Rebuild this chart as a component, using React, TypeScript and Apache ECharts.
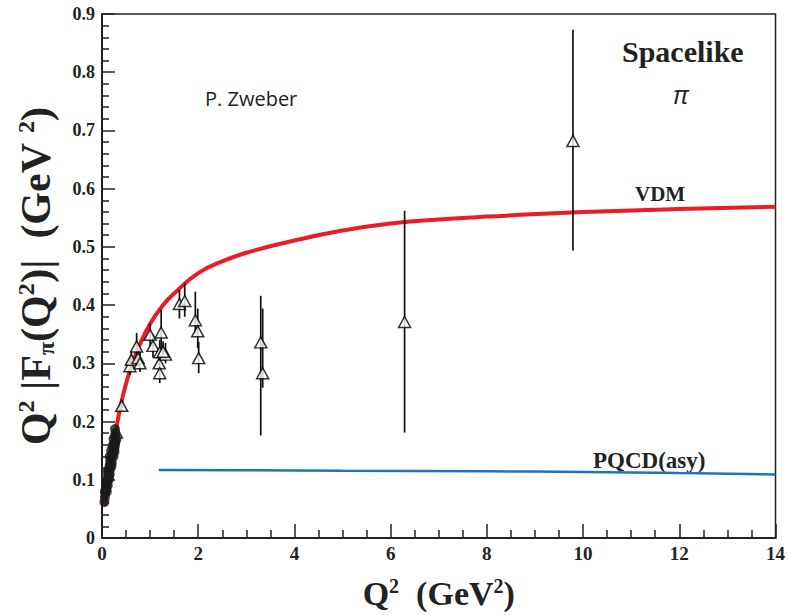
import React, { useEffect, useRef } from "react";
import * as echarts from "echarts";

// Open triangles (with error bars)
const triQ2 = [0.30, 0.41, 0.58, 0.61, 0.72, 0.75, 0.79, 1.0, 1.06, 1.23, 1.20, 1.19, 1.20, 1.32, 1.27, 1.61, 1.72, 1.94, 1.99, 2.01, 3.30, 3.34, 6.29, 9.79];
const triVal = [0.181, 0.227, 0.295, 0.306, 0.329, 0.309, 0.300, 0.349, 0.330, 0.353, 0.319, 0.300, 0.283, 0.315, 0.320, 0.402, 0.407, 0.374, 0.355, 0.309, 0.336, 0.283, 0.371, 0.682];
const triLo = [0.176, 0.217, 0.280, 0.290, 0.300, 0.295, 0.285, 0.329, 0.310, 0.325, 0.300, 0.285, 0.266, 0.300, 0.305, 0.377, 0.380, 0.350, 0.326, 0.283, 0.176, 0.258, 0.181, 0.494];
const triHi = [0.186, 0.237, 0.310, 0.322, 0.352, 0.325, 0.325, 0.368, 0.350, 0.392, 0.340, 0.320, 0.300, 0.335, 0.338, 0.426, 0.437, 0.423, 0.394, 0.337, 0.416, 0.394, 0.562, 0.873];

// Filled circles (low Q^2)
const dotQ2 = [0.05, 0.06, 0.07, 0.08, 0.09, 0.10, 0.11, 0.12, 0.13, 0.14, 0.15, 0.16, 0.17, 0.18, 0.20, 0.22, 0.24, 0.26, 0.22, 0.25, 0.28, 0.24, 0.27, 0.28, 0.27, 0.20, 0.15, 0.10, 0.12, 0.14, 0.16, 0.08, 0.18, 0.20, 0.24, 0.26, 0.16, 0.19, 0.27, 0.30, 0.06, 0.12];
const dotVal = [0.062, 0.070, 0.077, 0.083, 0.088, 0.093, 0.098, 0.104, 0.110, 0.115, 0.120, 0.125, 0.130, 0.135, 0.140, 0.145, 0.150, 0.155, 0.158, 0.162, 0.165, 0.170, 0.175, 0.180, 0.187, 0.125, 0.105, 0.080, 0.090, 0.100, 0.110, 0.095, 0.120, 0.130, 0.140, 0.148, 0.140, 0.150, 0.160, 0.170, 0.080, 0.115];

// VDM curve
const vdmQ2 = [0.06, 0.1, 0.15, 0.2, 0.3, 0.4, 0.5, 0.6, 0.8, 1.0, 1.25, 1.5, 2, 2.5, 3, 4, 5, 6, 7, 8, 10, 12, 14];
const vdmVal = [0.055, 0.08, 0.11, 0.14, 0.19, 0.232, 0.265, 0.292, 0.335, 0.368, 0.398, 0.42, 0.455, 0.475, 0.49, 0.511, 0.528, 0.54, 0.547, 0.552, 0.56, 0.565, 0.569];

// PQCD(asy) curve
const pqcdQ2 = [1.18, 3, 5, 8, 10, 12, 14];
const pqcdVal = [0.117, 0.1165, 0.1155, 0.1145, 0.1135, 0.1115, 0.109];

const serif = "'Liberation Serif', 'Times New Roman', serif";
const sans = "'Open Sans', 'Noto Sans', sans-serif";

export default function App() {
  const ref = useRef<HTMLDivElement>(null);
  useEffect(() => {
    if (!ref.current) return;
    const chart = echarts.init(ref.current, undefined, { renderer: "svg" });
    const errData = triQ2.map((x, i) => [x, triLo[i], triHi[i]]);
    const option: any = {
      animation: false,
      backgroundColor: "#ffffff",
      grid: {
        left: 102, right: 8, top: 14, bottom: 72,
        show: true, borderColor: "#222", borderWidth: 1.5, backgroundColor: "transparent",
      },
      xAxis: {
        type: "value", min: 0, max: 14, interval: 2,
        axisLine: { show: true, onZero: false, lineStyle: { color: "#222", width: 2 } },
        axisTick: { show: true, inside: true, length: 14, lineStyle: { color: "#222", width: 1.5 } },
        minorTick: { show: true, splitNumber: 4, length: 8, lineStyle: { color: "#222", width: 1.5 } },
        splitLine: { show: false },
        axisLabel: { color: "#222", fontFamily: serif, fontWeight: "bold", fontSize: 19, margin: 6 },
        name: "{b|Q}{s|2}{b|  (GeV}{s|2}{b|)}",
        nameLocation: "middle", nameGap: 38,
        nameTextStyle: {
          rich: {
            b: { fontFamily: serif, fontWeight: "bold", fontSize: 34, color: "#222", lineHeight: 34 },
            s: { fontFamily: serif, fontWeight: "bold", fontSize: 20, color: "#222", verticalAlign: "top", lineHeight: 34 },
          },
        },
      },
      yAxis: {
        type: "value", min: 0, max: 0.9, interval: 0.1,
        axisLine: { show: true, onZero: false, lineStyle: { color: "#222", width: 2 } },
        axisTick: { show: true, inside: true, length: 13, lineStyle: { color: "#222", width: 1.5 } },
        minorTick: { show: true, splitNumber: 5, length: 7, lineStyle: { color: "#222", width: 1.5 } },
        splitLine: { show: false },
        axisLabel: {
          color: "#222", fontFamily: serif, fontWeight: "bold", fontSize: 18, margin: 7,
          formatter: (v: number) => (v === 0 ? "0" : v.toFixed(1)),
        },
        name: "{b|Q}{s|2}{b| |F}{u|π}{b|(Q}{s|2}{b|)|  (GeV }{s|2}{b|)}",
        nameLocation: "middle", nameGap: 44, nameRotate: 90,
        nameTextStyle: {
          rich: {
            b: { fontFamily: serif, fontWeight: "bold", fontSize: 42, color: "#222", lineHeight: 44 },
            s: { fontFamily: serif, fontWeight: "bold", fontSize: 24, color: "#222", verticalAlign: "top", lineHeight: 44 },
            u: { fontFamily: serif, fontWeight: "bold", fontSize: 24, color: "#222", verticalAlign: "bottom", lineHeight: 44 },
          },
        },
      },
      series: [
        {
          type: "line", name: "VDM", data: vdmQ2.map((x, i) => [x, vdmVal[i]]),
          smooth: 0.5, showSymbol: false, lineStyle: { color: "#ec1c24", width: 4 }, z: 2,
        },
        {
          type: "line", name: "PQCD", data: pqcdQ2.map((x, i) => [x, pqcdVal[i]]),
          smooth: 0.5, showSymbol: false, lineStyle: { color: "#1a74c2", width: 2.5 }, z: 2,
        },
        {
          type: "custom", name: "err", data: errData, z: 3,
          renderItem: (params: any, api: any) => {
            const x = api.value(0);
            const p1 = api.coord([x, api.value(1)]);
            const p2 = api.coord([x, api.value(2)]);
            return {
              type: "line",
              shape: { x1: p1[0], y1: p1[1], x2: p2[0], y2: p2[1] },
              style: { stroke: "#111", lineWidth: 1.7 },
            };
          },
        },
        {
          type: "scatter", name: "tri", data: triQ2.map((x, i) => [x, triVal[i]]),
          symbol: "triangle", symbolSize: [12, 11],
          itemStyle: { color: "#ffffff", borderColor: "#000", borderWidth: 1.5 }, z: 4,
        },
        {
          type: "scatter", name: "dots", data: dotQ2.map((x, i) => [x, dotVal[i]]),
          symbol: "circle", symbolSize: 10,
          itemStyle: { color: "#1a1a1a" }, z: 5,
        },
      ],
      graphic: [
        { type: "text", left: 622, top: 36, style: { text: "Spacelike", font: `bold 30px ${serif}`, fill: "#222" } },
        { type: "text", left: 673, top: 81, style: { text: "π", font: `italic 26px ${sans}`, fill: "#222" } },
        { type: "text", left: 205, top: 88, style: { text: "P. Zweber", font: `20px ${sans}`, fill: "#222" } },
        { type: "text", left: 635, top: 183, style: { text: "VDM", font: `bold 21px ${serif}`, fill: "#222" } },
        { type: "text", left: 593, top: 449, style: { text: "PQCD(asy)", font: `bold 23px ${serif}`, fill: "#222" } },
      ],
    };
    chart.setOption(option);
    return () => chart.dispose();
  }, []);
  return <div ref={ref} style={{ position: "fixed", left: 0, top: 0, width: 788, height: 615 }} />;
}
